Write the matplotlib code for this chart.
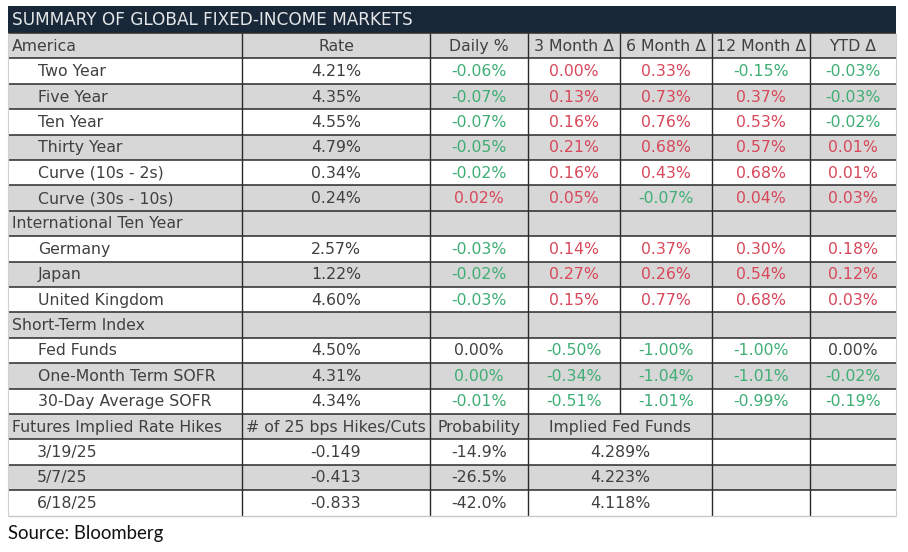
import matplotlib
matplotlib.use("Agg")
import matplotlib.pyplot as plt
from matplotlib.patches import Rectangle

TITLE = "SUMMARY OF GLOBAL FIXED-INCOME MARKETS"
HEADERS = ["Rate", "Daily %", "3 Month \u0394", "6 Month \u0394", "12 Month \u0394", "YTD \u0394"]

america_labels = ["Two Year", "Five Year", "Ten Year", "Thirty Year",
                  "Curve (10s - 2s)", "Curve (30s - 10s)"]
america_values = [
    ["4.21%", "-0.06%", "0.00%", "0.33%", "-0.15%", "-0.03%"],
    ["4.35%", "-0.07%", "0.13%", "0.73%", "0.37%", "-0.03%"],
    ["4.55%", "-0.07%", "0.16%", "0.76%", "0.53%", "-0.02%"],
    ["4.79%", "-0.05%", "0.21%", "0.68%", "0.57%", "0.01%"],
    ["0.34%", "-0.02%", "0.16%", "0.43%", "0.68%", "0.01%"],
    ["0.24%", "0.02%", "0.05%", "-0.07%", "0.04%", "0.03%"],
]
america_colors = ["kgrrgg", "kgrrrg", "kgrrrg", "kgrrrr", "kgrrrr", "krrgrr"]

intl_labels = ["Germany", "Japan", "United Kingdom"]
intl_values = [
    ["2.57%", "-0.03%", "0.14%", "0.37%", "0.30%", "0.18%"],
    ["1.22%", "-0.02%", "0.27%", "0.26%", "0.54%", "0.12%"],
    ["4.60%", "-0.03%", "0.15%", "0.77%", "0.68%", "0.03%"],
]
intl_colors = ["kgrrrr", "kgrrrr", "kgrrrr"]

short_labels = ["Fed Funds", "One-Month Term SOFR", "30-Day Average SOFR"]
short_values = [
    ["4.50%", "0.00%", "-0.50%", "-1.00%", "-1.00%", "0.00%"],
    ["4.31%", "0.00%", "-0.34%", "-1.04%", "-1.01%", "-0.02%"],
    ["4.34%", "-0.01%", "-0.51%", "-1.01%", "-0.99%", "-0.19%"],
]
short_colors = ["kkgggk", "kggggg", "kggggg"]

fut_headers = ["# of 25 bps Hikes/Cuts", "Probability", "Implied Fed Funds"]
fut_dates = ["3/19/25", "5/7/25", "6/18/25"]
fut_hikes = ["-0.149", "-0.413", "-0.833"]
fut_prob = ["-14.9%", "-26.5%", "-42.0%"]
fut_implied = ["4.289%", "4.223%", "4.118%"]

COLORS = {"k": "#404040", "g": "#3fae74", "r": "#d8475a"}
NAVY = "#192838"
GREY = "#d7d7d7"
LINE = "#2a2a2a"
FONT = "DejaVu Sans"
FS = 11.3

COL_EDGES = [8, 242, 430, 528, 620, 712, 810, 896]
TOP = 33.0
ROW_H = 25.4

fig = plt.figure(figsize=(9.08, 5.52), dpi=100)
ax = fig.add_axes([0, 0, 1, 1])
ax.set_xlim(0, 908)
ax.set_ylim(552, 0)
ax.axis("off")

# title bar
ax.add_patch(Rectangle((COL_EDGES[0], 6), COL_EDGES[-1] - COL_EDGES[0], TOP - 6,
                       facecolor=NAVY, edgecolor="none"))
ax.text(COL_EDGES[0] + 4, (6 + TOP) / 2 + 0.5, TITLE, color="#e4e6e8",
        fontsize=12.2, family=FONT, va="center", ha="left")

# build the row list: (kind, label, cells, colors)
rows = []
rows.append(("head", "America", HEADERS, "kkkkkk"))
for lab, vals, cols in zip(america_labels, america_values, america_colors):
    rows.append(("data", lab, vals, cols))
rows.append(("head", "International Ten Year", [""] * 6, "kkkkkk"))
for lab, vals, cols in zip(intl_labels, intl_values, intl_colors):
    rows.append(("data", lab, vals, cols))
rows.append(("head", "Short-Term Index", [""] * 6, "kkkkkk"))
for lab, vals, cols in zip(short_labels, short_values, short_colors):
    rows.append(("data", lab, vals, cols))
rows.append(("fhead", "Futures Implied Rate Hikes", fut_headers, "kkk"))
for d, h, p, f in zip(fut_dates, fut_hikes, fut_prob, fut_implied):
    rows.append(("fdata", d, [h, p, f], "kkk"))

shade = False
for i, (kind, label, cells, cols) in enumerate(rows):
    y0 = TOP + i * ROW_H
    yc = y0 + ROW_H / 2 + 0.5
    if kind in ("head", "fhead"):
        shaded = True
        shade = False
    else:
        shaded = shade
        shade = not shade
    if shaded:
        ax.add_patch(Rectangle((COL_EDGES[0], y0), COL_EDGES[-1] - COL_EDGES[0], ROW_H,
                               facecolor=GREY, edgecolor="none"))
    indent = 4 if kind in ("head", "fhead") else 30
    if kind == "fdata":
        indent = 29
    ax.text(COL_EDGES[0] + indent, yc, label, color=COLORS["k"], fontsize=FS,
            family=FONT, va="center", ha="left")

    if kind in ("head", "data"):
        vlines = COL_EDGES[1:-1]
        centers = [(COL_EDGES[j] + COL_EDGES[j + 1]) / 2 for j in range(1, 7)]
    else:
        vlines = [COL_EDGES[1], COL_EDGES[2], COL_EDGES[3], COL_EDGES[5], COL_EDGES[6]]
        centers = [(COL_EDGES[1] + COL_EDGES[2]) / 2, (COL_EDGES[2] + COL_EDGES[3]) / 2,
                   (COL_EDGES[3] + COL_EDGES[5]) / 2]
    for c, txt, code in zip(centers, cells, cols):
        ax.text(c, yc, txt, color=COLORS[code], fontsize=FS, family=FONT,
                va="center", ha="center")
    ax.vlines(vlines, y0, y0 + ROW_H, color=LINE, lw=1.0)
    ax.hlines(y0, COL_EDGES[0], COL_EDGES[-1], color=LINE, lw=1.1)

bottom = TOP + len(rows) * ROW_H
ax.hlines(bottom, COL_EDGES[0], COL_EDGES[-1], color="#c8c8c8", lw=1.0)
ax.vlines([COL_EDGES[0], COL_EDGES[-1]], TOP, bottom, color="#d0d0d0", lw=0.8)

ax.text(COL_EDGES[0], 533, "Source: Bloomberg", color="#111111", fontsize=13.4,
        family="Lato", va="center", ha="left")

fig.savefig("out.png", dpi=100)
